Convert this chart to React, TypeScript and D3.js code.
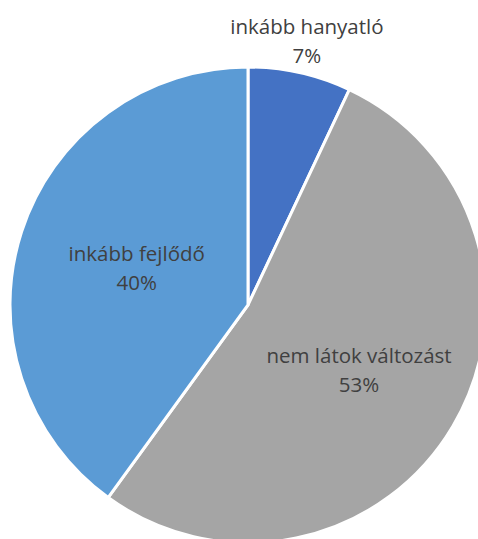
import React from "react";
import * as d3 from "d3";

const categories = ["inkább hanyatló", "nem látok változást", "inkább fejlődő"];
const values = [7, 53, 40];
const colors = ["#4472C4", "#A5A5A5", "#5B9BD5"];
const labelRadii = [270, 129, 117];

const W = 478;
const H = 539;
const cx = 248;
const cy = 305;
const R = 238;

export default function App() {
  const data = categories.map((c, i) => ({ c, v: values[i], i }));
  const pie = d3.pie<any>().value((d) => d.v).sort(null);
  const arcs = pie(data);
  const arc = d3.arc<any>().innerRadius(0).outerRadius(R);
  const total = d3.sum(values);
  return (
    <svg width={W} height={H} style={{ position: "absolute", left: 0, top: 0 }}>
      <rect width={W} height={H} fill="#fff" />
      <g transform={`translate(${cx},${cy})`}>
        {arcs.map((a, i) => (
          <path key={i} d={arc(a) as string} fill={colors[i]} stroke="#fff" strokeWidth={3} strokeLinejoin="miter" />
        ))}
        {arcs.map((a, i) => {
          const la = d3.arc<any>().innerRadius(labelRadii[i]).outerRadius(labelRadii[i]);
          const [x, y] = la.centroid(a);
          const pct = Math.round((a.data.v / total) * 100) + "%";
          return (
            <text key={"t" + i} x={x} y={y} textAnchor="middle" fill="#404040"
              style={{ fontFamily: "'Open Sans', sans-serif", fontSize: 20.5 }}>
              <tspan x={x} dy={-8}>{a.data.c}</tspan>
              <tspan x={x} dy={29}>{pct}</tspan>
            </text>
          );
        })}
      </g>
    </svg>
  );
}
